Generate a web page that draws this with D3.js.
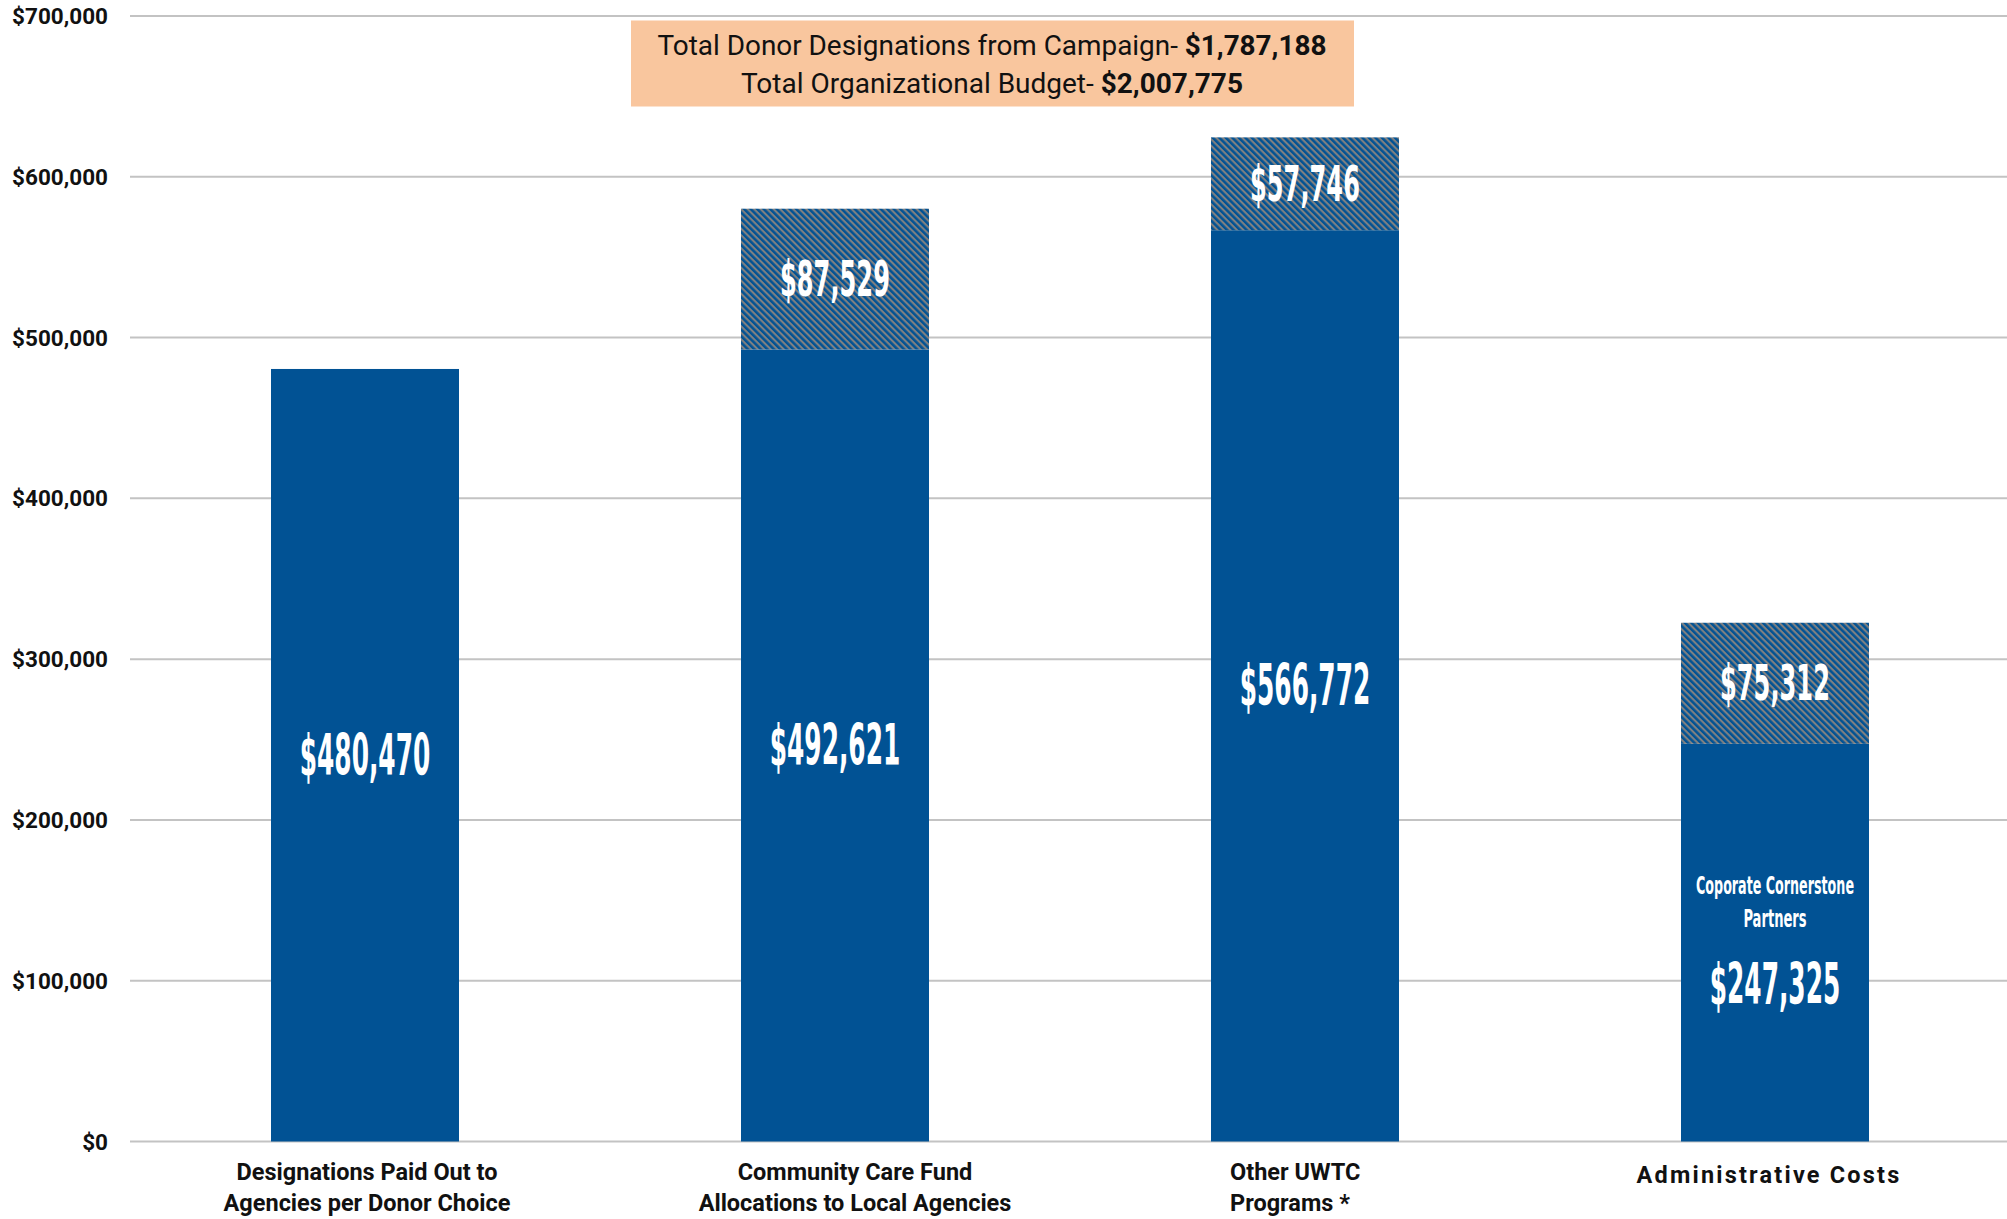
<!DOCTYPE html>
<html>
<head>
<meta charset="utf-8">
<script src="https://cdn.jsdelivr.net/npm/d3@7"></script>
<style>
  html, body { margin: 0; padding: 0; background: #ffffff; }
  svg { display: block; }
</style>
</head>
<body>
<svg id="chart" width="2007" height="1219"></svg>
<script>
// ---------------- DATA ----------------
const categories = [
  ["Designations Paid Out to", "Agencies per Donor Choice"],
  ["Community Care Fund", "Allocations to Local Agencies"],
  ["Other UWTC", "Programs *"],
  ["Administrative Costs"]
];
const baseValues  = [480470, 492621, 566772, 247325];
const hatchValues = [0, 87529, 57746, 75312];
const yTicks = [0, 100000, 200000, 300000, 400000, 500000, 600000, 700000];
const subLabel = ["Coporate Cornerstone", "Partners"];   // shown on the last bar
const noteLines = [
  ["Total Donor Designations from Campaign- ", "$1,787,188"],
  ["Total Organizational Budget- ", "$2,007,775"]
];

// ---------------- STYLE ----------------
const W = 2007, H = 1219;
const BLUE = "#015294", GREY = "#808080", GRID = "#c3c3c3", PEACH = "#f9c69e";
const narrow = "'Liberation Sans Narrow','DejaVu Sans Condensed','Arial Narrow',sans-serif";
const labelDx = [2, 20, 0, -6];          // horizontal nudge of category labels
const labelAnchor = ["middle", "middle", "start", "middle"];

const svg = d3.select("#chart");
const keys = categories.map((c, i) => "c" + i);

const x = d3.scaleBand().domain(keys).range([130, 2010]).paddingInner(0.6).paddingOuter(0.3);
const y = d3.scaleLinear().domain([0, 700000]).range([1141.5, 16]);

// hatch pattern
const defs = svg.append("defs");
const pat = defs.append("pattern").attr("id", "hatch").attr("patternUnits", "userSpaceOnUse")
  .attr("width", 4.6).attr("height", 4.6).attr("patternTransform", "rotate(45)");
pat.append("rect").attr("width", 4.6).attr("height", 4.6).attr("fill", BLUE);
pat.append("rect").attr("width", 4.6).attr("height", 2.1).attr("fill", GREY);

// gridlines
svg.append("g").selectAll("line").data(yTicks).join("line")
  .attr("x1", 130).attr("x2", W).attr("y1", d => y(d)).attr("y2", d => y(d))
  .attr("stroke", GRID).attr("stroke-width", 2);

// y axis labels
const fmt = d3.format("$,");
svg.append("g").selectAll("text").data(yTicks).join("text")
  .attr("x", 108).attr("y", d => y(d)).attr("dy", "0.36em")
  .attr("text-anchor", "end").attr("font-family", "Roboto, sans-serif")
  .attr("font-weight", 700).attr("font-size", 22.5).attr("fill", "#111")
  .text(d => fmt(d));

// bars
const bars = svg.append("g");
bars.selectAll("rect.base").data(baseValues).join("rect").attr("class", "base")
  .attr("x", (d, i) => x(keys[i])).attr("width", x.bandwidth())
  .attr("y", d => y(d)).attr("height", d => y(0) - y(d)).attr("fill", BLUE);
bars.selectAll("rect.hatch").data(hatchValues).join("rect").attr("class", "hatch")
  .attr("x", (d, i) => x(keys[i])).attr("width", x.bandwidth())
  .attr("y", (d, i) => y(baseValues[i] + d))
  .attr("height", (d, i) => y(baseValues[i]) - y(baseValues[i] + d))
  .attr("fill", "url(#hatch)");

// value labels
const money = d3.format("$,");
const cx = i => x(keys[i]) + x.bandwidth() / 2;
const baseShift = [0, 0, 0, 42];
svg.append("g").selectAll("text").data(baseValues).join("text")
  .attr("x", (d, i) => cx(i))
  .attr("y", (d, i) => (y(0) + y(d)) / 2 + baseShift[i])
  .attr("dy", "0.34em").attr("text-anchor", "middle")
  .attr("font-family", narrow).attr("font-weight", 700).attr("font-size", 57)
  .attr("fill", "#fff")
  .attr("textLength", d => money(d).length * 16.3).attr("lengthAdjust", "spacingAndGlyphs")
  .text(d => money(d));

svg.append("g").selectAll("text").data(hatchValues.map((v, i) => ({v, i})).filter(d => d.v > 0)).join("text")
  .attr("x", d => cx(d.i))
  .attr("y", d => (y(baseValues[d.i]) + y(baseValues[d.i] + d.v)) / 2)
  .attr("dy", "0.34em").attr("text-anchor", "middle")
  .attr("font-family", narrow).attr("font-weight", 700).attr("font-size", 50)
  .attr("fill", "#fff")
  .attr("textLength", d => money(d.v).length * 15.7).attr("lengthAdjust", "spacingAndGlyphs")
  .text(d => money(d.v));

// sub label on admin bar
const adminMid = (y(0) + y(baseValues[3])) / 2;
svg.append("g").selectAll("text").data(subLabel).join("text")
  .attr("x", cx(3)).attr("y", (d, i) => adminMid - 58 + i * 33).attr("dy", "0.36em")
  .attr("text-anchor", "middle").attr("font-family", narrow).attr("font-weight", 700)
  .attr("font-size", 25).attr("fill", "#fff")
  .attr("textLength", d => d.length * 7.9).attr("lengthAdjust", "spacingAndGlyphs")
  .text(d => d);

// category labels
const catG = svg.append("g");
categories.forEach((lines, i) => {
  const anchor = labelAnchor[i];
  const bx = anchor === "start" ? cx(i) - 75 : cx(i) + labelDx[i];
  const t = catG.append("text").attr("text-anchor", anchor)
    .attr("font-family", "Roboto, sans-serif").attr("font-weight", 700)
    .attr("font-size", 23.5).attr("fill", "#111");
  if (lines.length === 1) t.attr("letter-spacing", 2.2);
  lines.forEach((ln, j) => {
    t.append("tspan").attr("x", bx).attr("y", (lines.length === 1 ? 1183 : 1180) + j * 31).text(ln);
  });
});

// annotation box
const boxG = svg.append("g");
boxG.append("rect").attr("x", 631).attr("y", 20.5).attr("width", 723).attr("height", 86).attr("fill", PEACH);
const noteWidths = [669, 502];
noteLines.forEach((ln, j) => {
  const t = boxG.append("text").attr("x", 992).attr("y", 55 + j * 37.5)
    .attr("text-anchor", "middle").attr("font-family", "Roboto, sans-serif")
    .attr("font-size", 27).attr("fill", "#111")
    .attr("textLength", noteWidths[j]).attr("lengthAdjust", "spacingAndGlyphs");
  t.append("tspan").text(ln[0]);
  t.append("tspan").attr("font-weight", 700).text(ln[1]);
});
</script>
</body>
</html>
